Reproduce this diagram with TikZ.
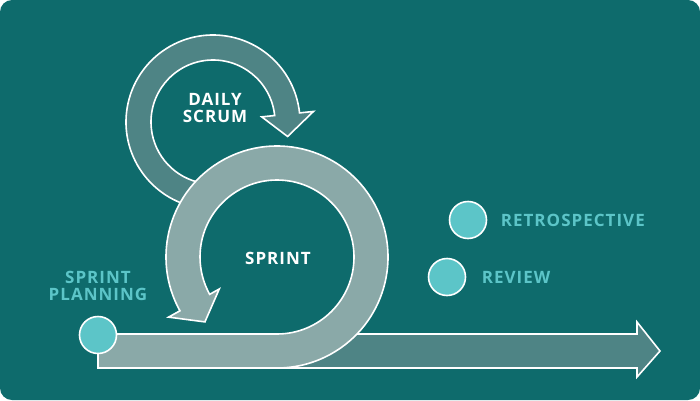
\documentclass[tikz,border=0pt]{standalone}
\usepackage{fontspec}
\setmainfont{Open Sans}
\usepackage{tikz}
\usetikzlibrary{positioning}
\definecolor{bgteal}{HTML}{0E6B6C}
\definecolor{lightband}{HTML}{8AA9A8}
\definecolor{darkband}{HTML}{4E8485}
\definecolor{dotcyan}{HTML}{5CC5C8}
\tikzset{band/.style = {draw = white, line width = 1.6pt, line join = miter},
  dot/.style = {circle, fill = dotcyan, draw = white, line width = 1.6pt, minimum size = 37, inner sep = 0},
  lbl/.style = {text = white, font = \fontsize{17}{20}\selectfont\bfseries\addfontfeature{LetterSpace=6}, align = center},
  clbl/.style = {text = dotcyan, font = \fontsize{17}{20}\selectfont\bfseries\addfontfeature{LetterSpace=6}, align = center}}

\begin{document}
\begin{tikzpicture}[x = 1pt, y = 1pt]

      \useasboundingbox (0, 0) rectangle (700, 400);
      \fill [bgteal, rounded corners = 12] (0, 0) rectangle (700, 400);

      \coordinate (sc) at (277, 143);
      \coordinate (dc) at (213, 278);

      % daily scrum loop
      \fill [darkband] ([shift = {(260:87)}] dc) arc [start angle = 260, end angle = 6, radius = 87]
        -- ([shift = {(6:101)}] dc) -- ([shift = {(-11:76)}] dc) -- ([shift = {(6:49)}] dc)
        -- ([shift = {(6:62)}] dc) arc [start angle = 6, end angle = 260, radius = 62] -- cycle;
      \draw [band] ([shift = {(260:87)}] dc) arc [start angle = 260, end angle = 6, radius = 87]
        -- ([shift = {(6:101)}] dc) -- ([shift = {(-11:76)}] dc) -- ([shift = {(6:49)}] dc)
        -- ([shift = {(6:62)}] dc) arc [start angle = 6, end angle = 260, radius = 62];

      % timeline
      \draw [band, fill = darkband] (98, 32) -- (637, 32) -- (637, 23) -- (660, 49)
        -- (637, 78) -- (637, 66) -- (98, 66) -- cycle;

      % sprint loop
      \draw [band, fill = lightband] (98, 66) -- (277, 66)
        arc [start angle = -90, end angle = 209, radius = 77]
        -- ([shift = {(209:66)}] sc) -- ([shift = {(222:97)}] sc) -- ([shift = {(209:124)}] sc)
        -- ([shift = {(209:111)}] sc) arc [start angle = 209, end angle = -90, radius = 111]
        -- (98, 32) -- cycle;

      \node [lbl] (daily) at (215, 292) {DAILY\\[-3pt]SCRUM};
      \node [lbl] (sprint) at (278, 142) {SPRINT};

      \node [dot] (planning) at (98, 65) {};
      \node [clbl, above = 12pt of planning] (planninglbl) {SPRINT\\[-3pt]PLANNING};
      \node [dot] (retro) at (468, 180) {};
      \node [clbl, right = 10pt of retro] (retrolbl) {RETROSPECTIVE};
      \node [dot] (review) at (447, 123) {};
      \node [clbl, right = 12pt of review] (reviewlbl) {REVIEW};
    \end{tikzpicture}
\end{document}
